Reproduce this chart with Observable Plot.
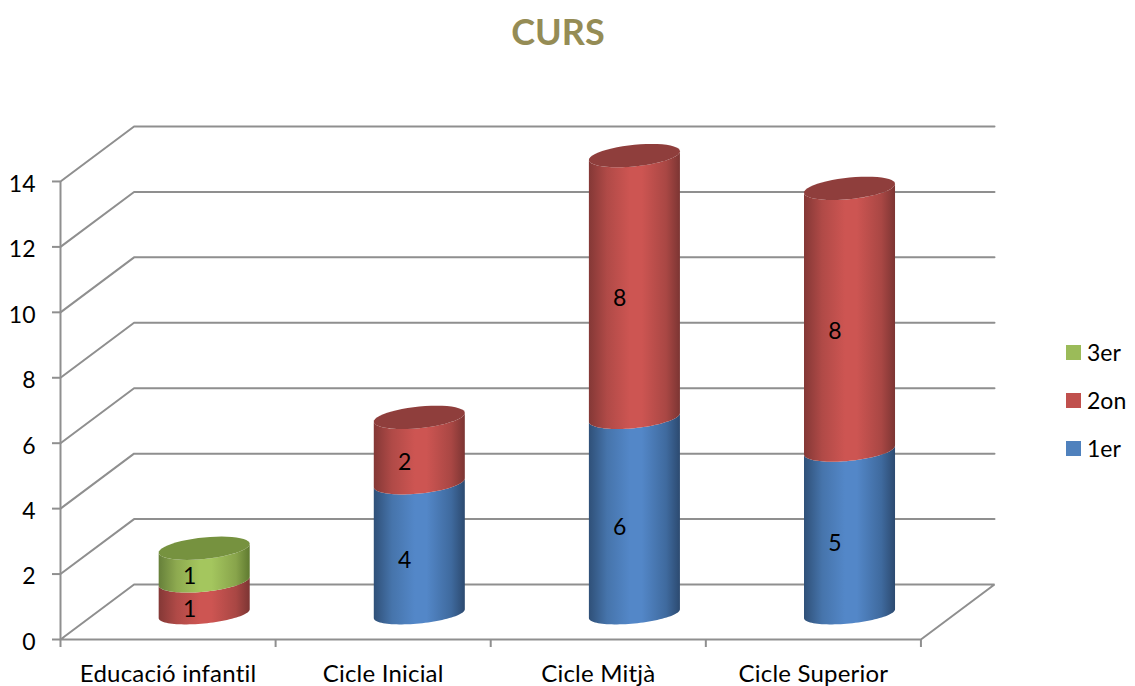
<!DOCTYPE html>
<html>
<head>
<meta charset="utf-8">
<script src="https://cdn.jsdelivr.net/npm/d3@7"></script>
<script src="https://cdn.jsdelivr.net/npm/@observablehq/plot@0.6"></script>
<style>
  html, body { margin: 0; padding: 0; background: #fff; }
  #page { position: relative; width: 1135px; height: 686px; overflow: hidden; font-family: Lato, "Noto Sans", sans-serif; }
  #title { position: absolute; left: 0; top: 8px; width: 1116px; text-align: center; font-size: 36px; line-height: 46px; font-weight: 700; color: #958c55; }
  #chart { position: absolute; left: 0; top: 99px; }
  .key { position: absolute; left: 1066px; height: 28px; display: flex; align-items: center; font-size: 23px; color: #000; white-space: nowrap; }
  .key i { display: block; width: 15px; height: 15px; margin-right: 6px; }
  svg text { font-family: Lato, "Noto Sans", sans-serif; }
</style>
</head>
<body>
<div id="page">
  <div id="title">CURS</div>
  <div id="chart"></div>
</div>
<script>
// Data
const categories = ["Educació infantil", "Cicle Inicial", "Cicle Mitjà", "Cicle Superior"];
const seriesNames = ["1er", "2on", "3er"];
const values1er = [0, 4, 6, 5];
const values2on = [1, 2, 8, 8];
const values3er = [1, 0, 0, 0];
const yTicks = [0, 2, 4, 6, 8, 10, 12, 14];
const seriesValues = [values1er, values2on, values3er];

// Appearance of each series
const swatch = ["#4f81bd", "#c0504d", "#9bbb59"];
const shades = [
  ["#2f5078", "#4674ab", "#5387c8", "#5387c8", "#3f6a9e", "#2c4a70"],
  ["#843836", "#b04a47", "#cd5552", "#cd5552", "#a94744", "#7c3533"],
  ["#66803a", "#8eaa50", "#a4c65e", "#a4c65e", "#88a44b", "#5f7a30"]
];
const capColor = ["#3d6696", "#8f3e3c", "#76923f"];
const gridColor = "#8f8f8f";

// Oblique projection, expressed in data units of the two scales
const depthX = 0.342;   // floor depth along x (categories)
const depthY = 1.68;    // floor depth along y (values)
const lift = 0.79;      // cylinder axis sits mid-floor
const radiusX = 0.2116; // cylinder half-width
const tiltY = 0.135;    // ellipse tilt
const radiusY = 0.3;    // ellipse half-height at the base
const capRadiusY = 0.33; // ellipse half-height higher up
const nudgeX = -0.003;

const angles = d3.range(0, 49).map(k => k / 48);
const ringPoint = (i, v, t, ry) => ({
  x: i + 0.5 + depthX / 2 + nudgeX + radiusX * Math.cos(t),
  y: v + lift + tiltY * Math.cos(t) + ry * Math.sin(t)
});
const ringRadius = v => (v === 0 ? radiusY : capRadiusY);
// front arc runs from the left edge round the nearest side to the right edge
const frontArc = (i, v) => angles.map(k => ringPoint(i, v, Math.PI + k * Math.PI, ringRadius(v)));
const fullRing = (i, v) => angles.map(k => ringPoint(i, v, k * 2 * Math.PI, ringRadius(v)));

// Stack the values
const bodies = [], caps = [], labels = [];
categories.forEach((name, i) => {
  let base = 0, topSeries = -1;
  seriesValues.forEach((vals, s) => {
    const v = vals[i];
    if (!v) return;
    bodies.push({s, points: [...frontArc(i, base), ...frontArc(i, base + v).reverse()]});
    labels.push({x: i + 0.6, y: base + v / 2 + 0.42, text: String(v)});
    base += v;
    topSeries = s;
  });
  caps.push({s: topSeries, points: fullRing(i, base)});
});

// Walls and floor
const wallLines = yTicks.slice(1).map(v => [
  {x: 0, y: v}, {x: depthX, y: v + depthY}, {x: categories.length + depthX, y: v + depthY}
]);
const floorLine = [
  {x: 0, y: 0}, {x: depthX, y: depthY}, {x: categories.length + depthX, y: depthY},
  {x: categories.length, y: 0}, {x: 0, y: 0}
];
const gridStyle = {x: "x", y: "y", stroke: gridColor, strokeWidth: 2, strokeLinejoin: "miter"};

function gradients() {
  const defs = d3.create("svg:defs");
  shades.forEach((stops, s) => {
    const g = defs.append("linearGradient").attr("id", "shade" + s)
      .attr("x1", 0).attr("x2", 1).attr("y1", 0).attr("y2", 0);
    const offsets = [0, 0.2, 0.45, 0.58, 0.85, 1];
    stops.forEach((c, k) => g.append("stop").attr("offset", offsets[k]).attr("stop-color", c));
  });
  return defs.node();
}

const noText = () => "";

const plot = Plot.plot({
  width: 1135,
  height: 587,
  marginLeft: 60,
  marginRight: 141,
  marginTop: 27,
  marginBottom: 47,
  style: {background: "transparent", overflow: "visible"},
  x: {domain: [0, categories.length + depthX], axis: null},
  y: {domain: [0, 14 + depthY], axis: null},
  marks: [
    gradients,
    ...wallLines.map(line => Plot.line(line, gridStyle)),
    Plot.line(floorLine, gridStyle),
    Plot.ruleX([0], {y1: 0, y2: 14, stroke: gridColor, strokeWidth: 2}),
    Plot.axisY({ticks: yTicks, tickSize: 8, tickFormat: noText, label: null, stroke: gridColor, strokeWidth: 2}),
    Plot.axisY({ticks: yTicks, tickSize: 0, tickPadding: 25, fontSize: 23, color: "#000", label: null, dy: 3}),
    Plot.axisX({ticks: d3.range(0, categories.length + 1), tickSize: 8, tickFormat: noText, label: null, stroke: gridColor, strokeWidth: 2}),
    Plot.axisX({ticks: categories.map((c, i) => i + 0.5), tickSize: 0, tickPadding: 25, fontSize: 24, color: "#000", label: null,
      tickFormat: d => categories[Math.floor(d)]}),
    ...bodies.map(b => Plot.line(b.points, {x: "x", y: "y", fill: `url(#shade${b.s})`, stroke: "none", curve: "linear"})),
    ...caps.map(c => Plot.line(c.points, {x: "x", y: "y", fill: capColor[c.s], stroke: "none", curve: "linear"})),
    Plot.text(labels, {x: "x", y: "y", text: "text", fontSize: 23, fill: "#000"})
  ]
});
d3.select(plot).selectAll('g[aria-label="x-axis tick label"] text').style("letter-spacing", "0.2px");
document.getElementById("chart").appendChild(plot);

// Legend, top entry is the last series
const keyTops = [434, 386, 338];
seriesNames.forEach((name, s) => {
  const k = document.createElement("div");
  k.className = "key";
  k.style.top = keyTops[s] + "px";
  const box = document.createElement("i");
  box.style.background = swatch[s];
  k.appendChild(box);
  k.appendChild(document.createTextNode(name));
  document.getElementById("page").appendChild(k);
});
</script>
</body>
</html>
